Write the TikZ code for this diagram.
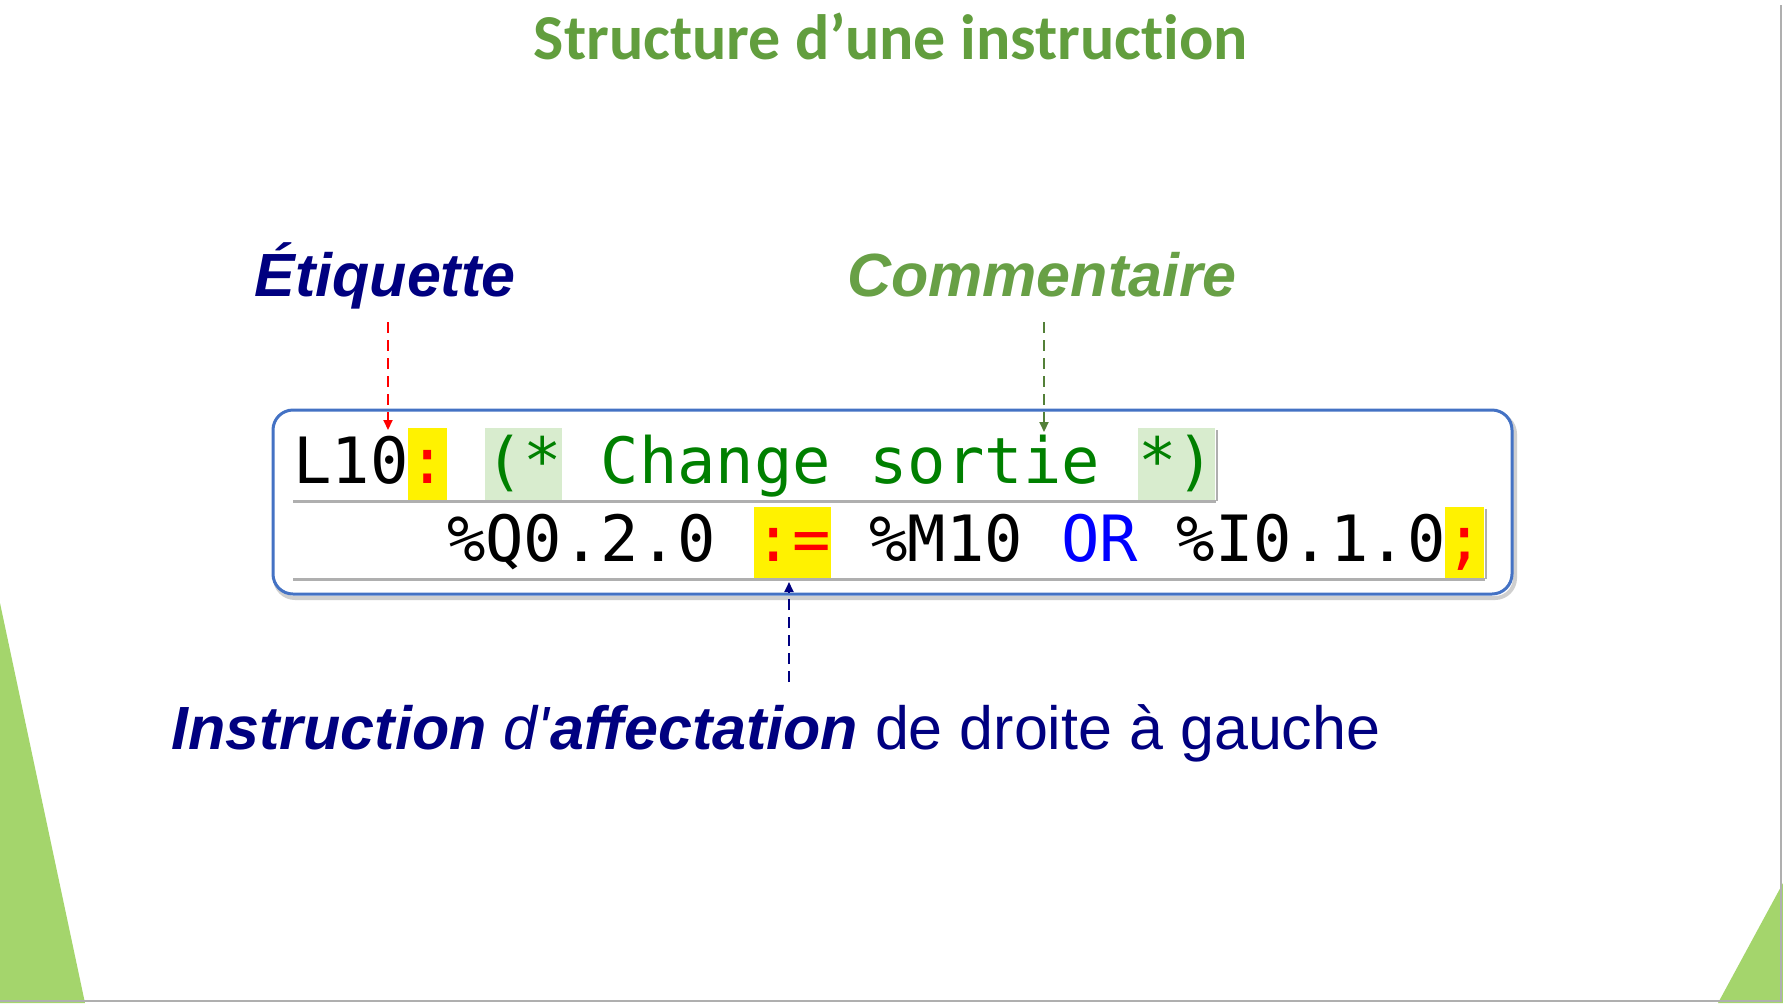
\documentclass[tikz,border=0pt]{standalone}
\usepackage{fontspec}
\usetikzlibrary{arrows.meta}
\setmainfont{Liberation Sans}
\newfontfamily\titrefont[Ligatures=NoCommon]{Carlito}
\newfontfamily\codefont{DejaVu Sans Mono}

\definecolor{vertTitre}{RGB}{98,158,62}
\definecolor{vertComm}{RGB}{104,160,70}
\definecolor{vertCode}{RGB}{0,128,0}
\definecolor{vertFond}{RGB}{216,236,206}
\definecolor{bleuNuit}{RGB}{0,0,128}
\definecolor{bleuCadre}{RGB}{68,114,196}
\definecolor{vertDeco}{RGB}{164,213,108}
\definecolor{gris}{RGB}{175,175,175}

\begin{document}
\begin{tikzpicture}[x=0.5pt,y=-0.5pt,
    code/.style={font=\codefont\fontsize{31.9pt}{32pt}\selectfont, inner sep=0pt, anchor=base west},
    legende/.style={font=\fontsize{30.5pt}{32pt}\selectfont, inner sep=0pt, anchor=base},
    legendeGras/.style={font=\fontsize{30.5pt}{32pt}\selectfont\bfseries\itshape, inner sep=0pt, anchor=base},
    fleche/.style={line width=1pt, dash pattern=on 5.5pt off 3.5pt,
      -{Triangle[length=5pt,width=4.5pt]}}]

    \useasboundingbox (0,0) rectangle (1783,1003);
    \fill[white] (0,0) rectangle (1783,1003);

    % green corners of the slide
    \fill[vertDeco] (0,603) -- (85,1003) -- (0,1003) -- cycle;
    \fill[vertDeco] (1783,883) -- (1783,1003) -- (1718,1003) -- cycle;
    \draw[gris, line width=1pt] (1781,5) -- (1781,1001) -- (0,1001);

    % title
    \node[font=\titrefont\bfseries\fontsize{32pt}{34pt}\selectfont, text=vertTitre,
      inner sep=0pt, anchor=base] (titre) at (891,59) {Structure d’une instruction};

    % frame round the two lines of code
    \draw[gris!60, line width=2pt, rounded corners=10pt] (275,414) rectangle (1515,598);
    \fill[white, rounded corners=10pt] (273,410) rectangle (1512,594);
    \draw[bleuCadre, line width=1.5pt, rounded corners=10pt] (273,410) rectangle (1512,594);

    % shadows under the rows
    \draw[gris, line width=1.5pt] (293,501) -- (1216,501);
    \draw[gris, line width=1.5pt] (293,579) -- (1485,579);
    \draw[gris, line width=1.2pt] (1217,430) -- (1217,501);
    \draw[gris, line width=1.2pt] (1486,509) -- (1486,579);

    % highlighted characters
    \foreach \xa/\ya/\xb/\yb/\c in {408/428/447/500/yellow, 485/428/562/500/vertFond,
        1138/428/1215/500/vertFond, 754/507/831/578/yellow, 1445/507/1484/578/yellow} {
      \fill[\c] (\xa,\ya) rectangle (\xb,\yb);
    }

    % line 1
    \node[code] (l10) at (293,483) {L10};
    \node[code, text=red] (dp) at (293+38.4*3,483) {:};
    \node[code, text=vertCode] (ouvre) at (293+38.4*5,483) {(*};
    \node[code, text=vertCode] (change) at (293+38.4*8,483) {Change};
    \node[code, text=vertCode] (sortie) at (293+38.4*15,483) {sortie};
    \node[code, text=vertCode] (ferme) at (293+38.4*22,483) {*)};

    % line 2
    \node[code] (q020) at (293+38.4*4,561) {\%Q0.2.0};
    \node[code, text=red] (affect) at (293+38.4*12,561) {:=};
    \node[code] (m10) at (293+38.4*15,561) {\%M10};
    \node[code, text=blue] (or) at (293+38.4*20,561) {OR};
    \node[code] (i010) at (293+38.4*23,561) {\%I0.1.0};
    \node[code, text=red] (pv) at (293+38.4*30,561) {;};

    % labels
    \node[legendeGras, text=bleuNuit] (etiquette) at (385,296) {Étiquette};
    \node[legendeGras, text=vertComm] (commentaire) at (1042,296) {Commentaire};
    \node[legende, text=bleuNuit, anchor=base west] (affectation) at (171,749)
      {\textbf{\textit{Instruction}} \textit{d\textquotesingle}\textbf{\textit{affectation}} de droite à gauche};

    % dashed arrows
    \coordinate (etiqHaut) at (388,322);
    \coordinate (etiqBas) at (388,430);
    \coordinate (commHaut) at (1044,322);
    \coordinate (commBas) at (1044,432);
    \coordinate (affBas) at (789,682);
    \coordinate (affHaut) at (789,582);
    \draw[fleche, red] (etiqHaut) -- (etiqBas);
    \draw[fleche, vertComm!80!black] (commHaut) -- (commBas);
    \draw[fleche, bleuNuit] (affBas) -- (affHaut);

\end{tikzpicture}
\end{document}
